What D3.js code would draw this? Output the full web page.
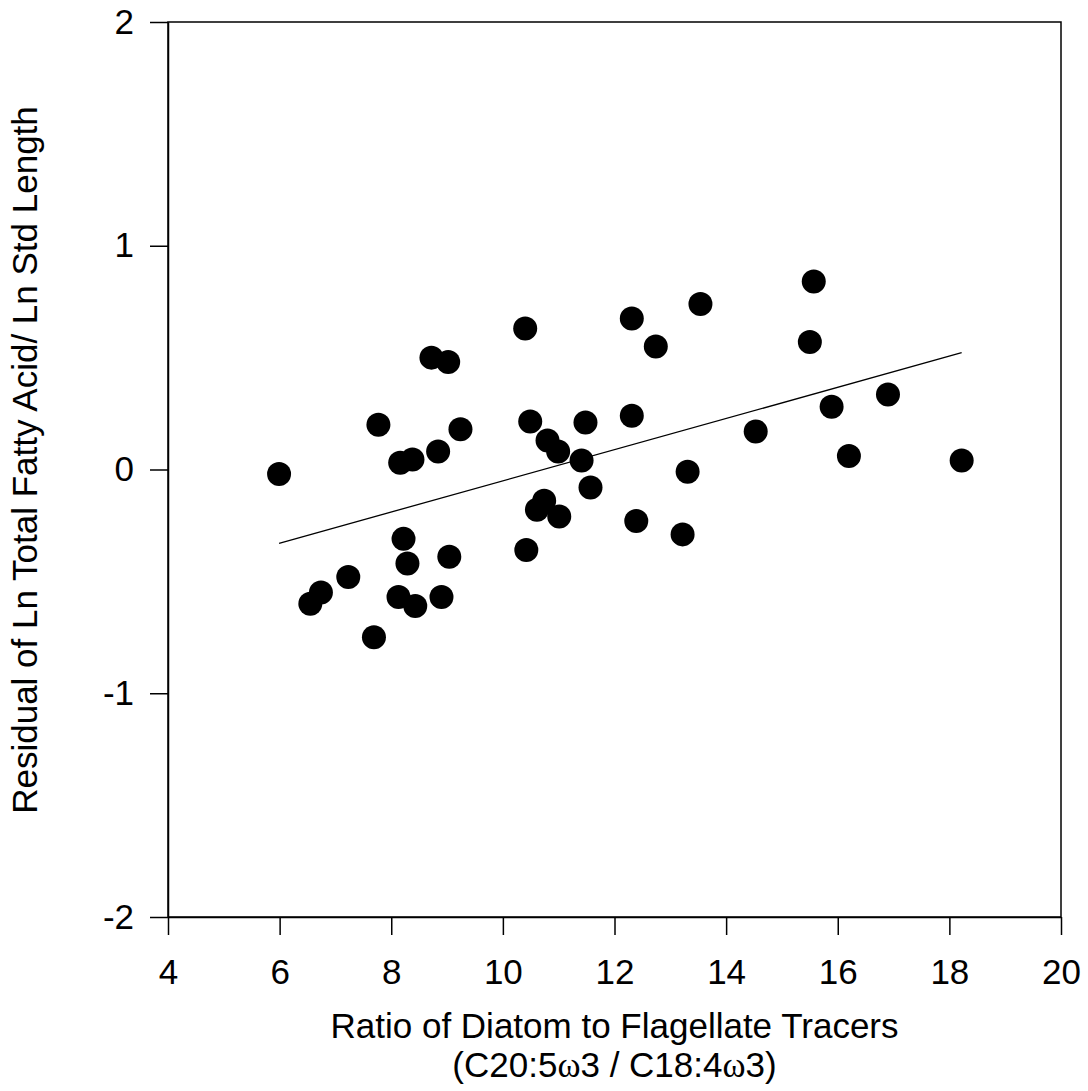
<!DOCTYPE html>
<html>
<head>
<meta charset="utf-8">
<script src="https://cdn.jsdelivr.net/npm/d3@7"></script>
<style>
body { margin: 0; background: #fff; }
text { font-family: "Liberation Sans", Arial, sans-serif; fill: #000; }
</style>
</head>
<body>
<div class="content"></div>
<script>
var size = {width: 1088, height: 1091};
var padding = {left: 168, right: 27, top: 22, bottom: 174};

// ratio of diatom to flagellate tracers (x) and residuals (y)
var ratio = [5.99, 6.55, 6.74, 7.23, 7.69, 7.77, 8.13, 8.16, 8.22, 8.29, 8.38, 8.43, 8.72, 8.84, 8.90,
             9.02, 9.04, 9.24, 10.40, 10.42, 10.49, 10.61, 10.74, 10.80, 10.99, 11.01, 11.41, 11.48,
             11.57, 12.31, 12.31, 12.39, 12.74, 13.22, 13.31, 13.54, 14.53, 15.50, 15.57, 15.89,
             16.20, 16.90, 18.22];
var resid = [-0.02, -0.60, -0.55, -0.48, -0.75, 0.20, -0.57, 0.03, -0.31, -0.42, 0.045, -0.61, 0.50,
             0.08, -0.57, 0.48, -0.39, 0.18, 0.63, -0.36, 0.215, -0.18, -0.14, 0.13, 0.08, -0.21, 0.04,
             0.21, -0.08, 0.675, 0.24, -0.23, 0.55, -0.29, -0.01, 0.74, 0.17, 0.57, 0.84, 0.28, 0.06,
             0.335, 0.04];
// regression line end points
var fitX = [5.99, 18.22];
var fitY = [-0.33, 0.522];

var xTicks = [4, 6, 8, 10, 12, 14, 16, 18, 20];
var yTicks = [-2, -1, 0, 1, 2];

var points = ratio.map(function(d, i) { return [d, resid[i]]; });

var chart = d3.select('.content')
    .append('svg')
    .attr('width', size.width)
    .attr('height', size.height);

var xScale = d3.scaleLinear()
    .domain([4, 20])
    .range([padding.left, size.width - padding.right]);
var yScale = d3.scaleLinear()
    .domain([-2, 2])
    .range([size.height - padding.bottom, padding.top]);

// plain hyphen for negatives, as in the original
var fmt = function(d) { return String(d); };
var xAxis = d3.axisBottom(xScale).tickValues(xTicks).tickFormat(fmt)
    .tickSize(18).tickPadding(24).tickSizeOuter(0);
var yAxis = d3.axisLeft(yScale).tickValues(yTicks).tickFormat(fmt)
    .tickSize(18).tickPadding(16).tickSizeOuter(0);

// frame
chart.append('rect')
    .attr('x', padding.left)
    .attr('y', padding.top)
    .attr('width', size.width - padding.left - padding.right)
    .attr('height', size.height - padding.top - padding.bottom)
    .attr('fill', 'none')
    .attr('stroke', '#000')
    .attr('stroke-width', 1.5);

var xAxisObj = chart.append('g')
    .attr('transform', 'translate(0,' + (size.height - padding.bottom) + ')')
    .call(xAxis);
var yAxisObj = chart.append('g')
    .attr('transform', 'translate(' + padding.left + ',0)')
    .call(yAxis);

[xAxisObj, yAxisObj].forEach(function(ax) {
    ax.attr('font-size', null).attr('font-family', null);
    ax.select('.domain').attr('stroke', '#000').attr('stroke-width', 1.5);
    ax.selectAll('.tick line').attr('stroke', '#000').attr('stroke-width', 1.5);
    ax.selectAll('.tick text')
        .style('font-size', '35px')
        .attr('fill', '#000');
});

// regression line
chart.append('line')
    .attr('x1', xScale(fitX[0]))
    .attr('y1', yScale(fitY[0]))
    .attr('x2', xScale(fitX[1]))
    .attr('y2', yScale(fitY[1]))
    .attr('stroke', '#000')
    .attr('stroke-width', 1.3);

// data points
chart.selectAll('circle.dots')
    .data(points)
    .enter().append('circle')
    .attr('class', 'dots')
    .attr('cx', function(d) { return xScale(d[0]); })
    .attr('cy', function(d) { return yScale(d[1]); })
    .attr('r', 12)
    .attr('fill', '#000');

// axis titles
var midX = (xScale(4) + xScale(20)) / 2;
chart.append('text')
    .attr('x', midX)
    .attr('y', 1038)
    .attr('text-anchor', 'middle')
    .style('font-size', '35px')
    .text('Ratio of Diatom to Flagellate Tracers');

var xSub = chart.append('text')
    .attr('x', midX)
    .attr('y', 1077)
    .attr('text-anchor', 'middle')
    .style('font-size', '35px');
xSub.append('tspan').text('(C20:5');
xSub.append('tspan').style('font-family', '"Liberation Serif", "DejaVu Serif", serif').text('ω');
xSub.append('tspan').text('3 / C18:4');
xSub.append('tspan').style('font-family', '"Liberation Serif", "DejaVu Serif", serif').text('ω');
xSub.append('tspan').text('3)');

chart.append('text')
    .attr('transform', 'translate(37,460) rotate(-90)')
    .attr('text-anchor', 'middle')
    .style('font-size', '35px')
    .text('Residual of Ln Total Fatty Acid/ Ln Std Length');
</script>
</body>
</html>
